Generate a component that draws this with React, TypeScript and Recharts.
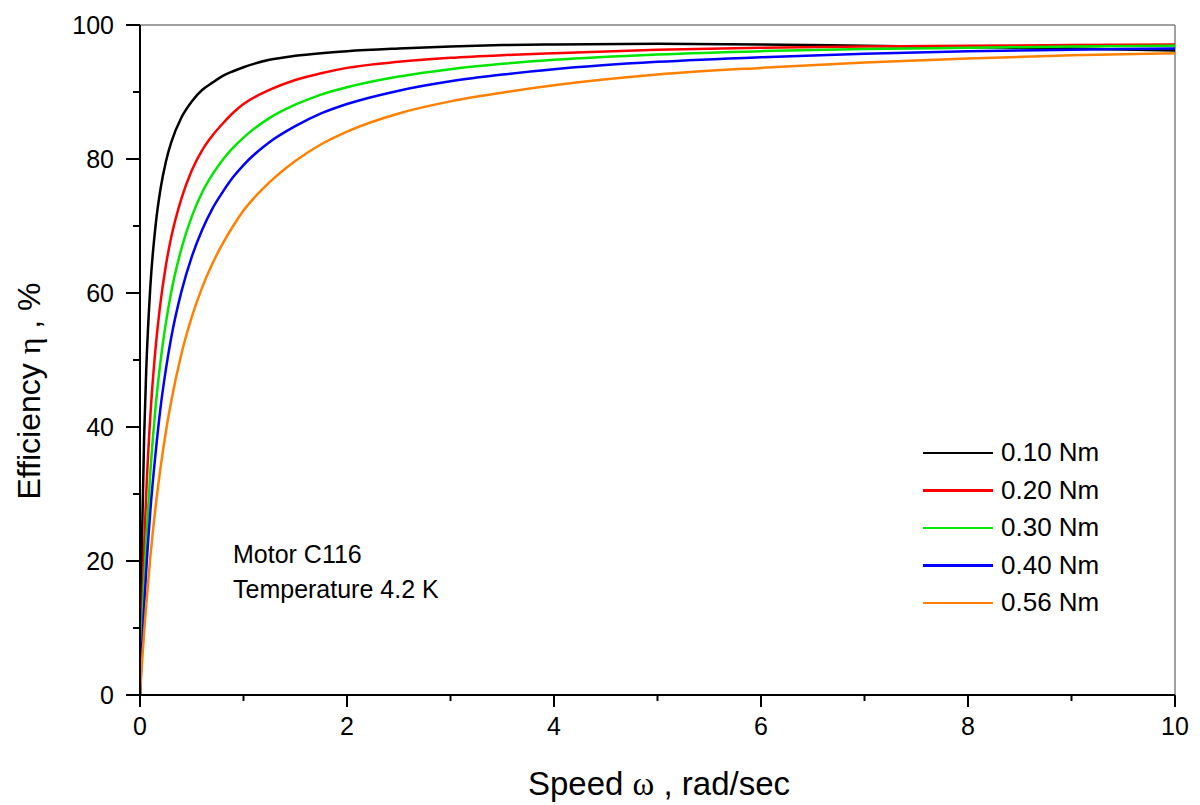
import React from 'react';
import { LineChart, Line, XAxis, YAxis, ReferenceLine } from 'recharts';

// speed, rad/sec
const speed = [0, 0.01, 0.02, 0.04, 0.06, 0.1, 0.15, 0.2, 0.25, 0.3, 0.4, 0.5, 0.6, 0.7, 0.8, 0.9, 1, 1.25, 1.5, 1.75, 2, 2.5, 3, 3.5, 4, 5, 6, 7, 8, 9, 10];

// efficiency %, one array per torque
const eff010 = [0, 13.5, 23.8, 38.5, 48.4, 61, 70, 75.7, 79.6, 82.4, 86.2, 88.6, 90.3, 91.4, 92.4, 93.1, 93.7, 94.8, 95.4, 95.8, 96.1, 96.5, 96.8, 97.0, 97.1, 97.2, 97.1, 96.9, 96.7, 96.5, 96.2];
const eff020 = [0, 6.7, 12.5, 22.2, 30, 41.7, 51.7, 58.8, 64.1, 68.2, 74.1, 78.3, 81.3, 83.5, 85.3, 86.9, 88.2, 90.3, 91.8, 92.8, 93.6, 94.5, 95.1, 95.5, 95.8, 96.3, 96.6, 96.8, 96.9, 97.0, 97.1];
const eff030 = [0, 4.8, 9.1, 16.7, 23, 33.3, 42.9, 50, 55.5, 60, 66.6, 71.4, 75, 77.7, 79.9, 81.7, 83.2, 86.1, 88.1, 89.6, 90.7, 92.3, 93.4, 94.2, 94.8, 95.6, 96.1, 96.4, 96.6, 96.8, 96.9];
const eff040 = [0, 3.7, 7, 13, 18.5, 27.5, 36, 43.1, 48.6, 53.2, 60.2, 65.4, 69.4, 72.6, 75.1, 77.3, 79.1, 82.5, 84.9, 86.8, 88.2, 90.2, 91.6, 92.6, 93.4, 94.5, 95.2, 95.7, 96.1, 96.3, 96.5];
const eff056 = [0, 2.5, 4.9, 9.4, 13.4, 20.6, 28, 34.1, 39.3, 43.7, 50.9, 56.4, 60.8, 64.4, 67.4, 70.0, 72.3, 76.5, 79.7, 82.2, 84.1, 86.8, 88.6, 89.9, 91.0, 92.6, 93.6, 94.4, 95.0, 95.5, 95.8];

const seriesNames = ['0.10 Nm', '0.20 Nm', '0.30 Nm', '0.40 Nm', '0.56 Nm'];
const seriesColors = ['#000000', '#ff0000', '#00e600', '#0000ff', '#ff8000'];
const seriesValues = [eff010, eff020, eff030, eff040, eff056];

const xTicks = [0, 1, 2, 3, 4, 5, 6, 7, 8, 9, 10];
const yTicks = [0, 10, 20, 30, 40, 50, 60, 70, 80, 90, 100];

const data = speed.map((x, i) => {
  const row: any = { x };
  seriesValues.forEach((s, k) => (row['s' + k] = s[i]));
  return row;
});

const FONT = '"Liberation Sans", Arial, sans-serif';

const XTick = (props: any) => {
  const { x, y, payload } = props;
  const major = payload.value % 2 === 0;
  return (
    <g>
      <line x1={x} x2={x} y1={y} y2={y + (major ? 12 : 6)} stroke="#000" strokeWidth={2} />
      {major && (
        <text x={x} y={y + 40} textAnchor="middle" fontSize={25} fontFamily={FONT} fill="#000">
          {payload.value}
        </text>
      )}
    </g>
  );
};

const YTick = (props: any) => {
  const { x, y, payload } = props;
  const major = payload.value % 20 === 0;
  return (
    <g>
      <line x1={x - (major ? 14 : 7)} x2={x} y1={y} y2={y} stroke="#000" strokeWidth={2} />
      {major && (
        <text x={x - 26} y={y + 9} textAnchor="end" fontSize={25} fontFamily={FONT} fill="#000">
          {payload.value}
        </text>
      )}
    </g>
  );
};

export default function App() {
  return (
    <div style={{ position: 'absolute', left: 0, top: 0, width: 1200, height: 805, background: '#fff' }}>
      <LineChart width={1200} height={805} data={data} margin={{ top: 25, right: 25, left: 0, bottom: 0 }}>
        <XAxis
          dataKey="x"
          type="number"
          domain={[0, 10]}
          ticks={xTicks}
          height={110}
          tickSize={0}
          tickMargin={0}
          tickLine={false}
          axisLine={{ stroke: '#000', strokeWidth: 2 }}
          tick={<XTick />}
          allowDataOverflow
        />
        <YAxis
          type="number"
          domain={[0, 100]}
          ticks={yTicks}
          width={140}
          tickSize={0}
          tickMargin={0}
          tickLine={false}
          axisLine={{ stroke: '#000', strokeWidth: 2 }}
          tick={<YTick />}
          allowDataOverflow
        />
        <ReferenceLine y={100} stroke="#808080" strokeWidth={1.5} />
        <ReferenceLine x={10} stroke="#808080" strokeWidth={1.5} />
        {seriesNames.map((name, k) => (
          <Line
            key={name}
            type="monotone"
            dataKey={'s' + k}
            name={name}
            stroke={seriesColors[k]}
            strokeWidth={2.5}
            dot={false}
            isAnimationActive={false}
          />
        ))}
      </LineChart>
      <div style={{ position: 'absolute', left: 923, top: 434, fontFamily: FONT }}>
        {seriesNames.map((name, k) => (
          <div key={name} style={{ display: 'flex', alignItems: 'center', height: 37.5 }}>
            <div style={{ width: 70, height: 2.5, background: seriesColors[k], marginRight: 8 }} />
            <span style={{ fontSize: 26, color: '#000' }}>{name}</span>
          </div>
        ))}
      </div>
      <svg
        width={1200}
        height={805}
        style={{ position: 'absolute', left: 0, top: 0, pointerEvents: 'none' }}
      >
        <text x={659} y={795} textAnchor="middle" fontSize={33} fontFamily={FONT} fill="#000">
          Speed <tspan fontFamily='"Liberation Serif", serif'>ω</tspan> , rad/sec
        </text>
        <text
          x={40}
          y={391}
          textAnchor="middle"
          fontSize={32}
          fontFamily={FONT}
          fill="#000"
          transform="rotate(-90, 40, 391)"
        >
          Efficiency <tspan fontFamily='"Liberation Serif", serif'>η</tspan> , %
        </text>
        <text x={233} y={563} fontSize={25} fontFamily={FONT} fill="#000">
          Motor C116
        </text>
        <text x={233} y={598} fontSize={25} fontFamily={FONT} fill="#000">
          Temperature 4.2 K
        </text>
      </svg>
    </div>
  );
}
